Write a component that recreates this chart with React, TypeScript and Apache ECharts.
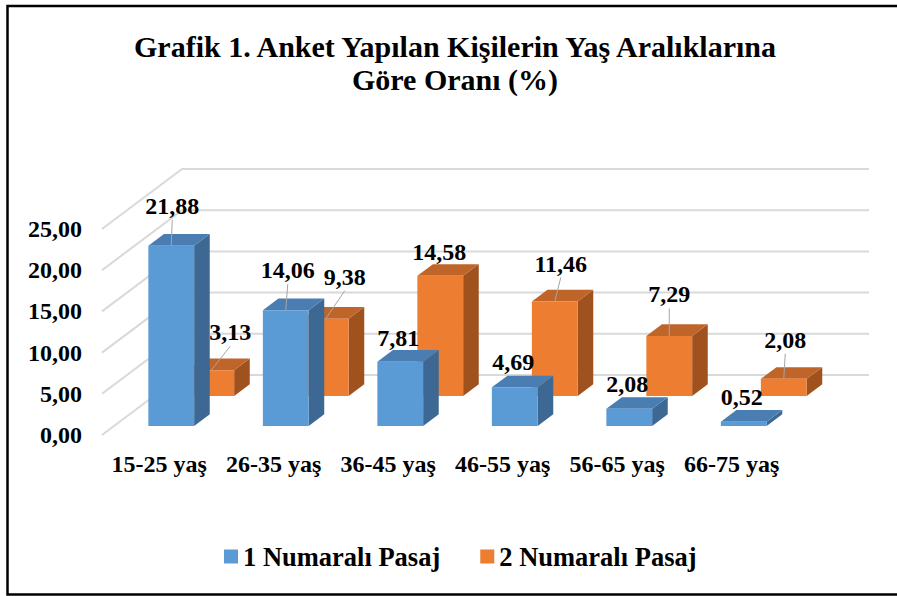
import React, { useEffect, useRef } from "react";
import * as echarts from "echarts";

// ---- data ----
const categories = ["15-25 yaş", "26-35 yaş", "36-45 yaş", "46-55 yaş", "56-65 yaş", "66-75 yaş"];
const seriesNames = ["1 Numaralı Pasaj", "2 Numaralı Pasaj"];
const pasaj1 = [21.88, 14.06, 7.81, 4.69, 2.08, 0.52];
const pasaj2 = [3.13, 9.38, 14.58, 11.46, 7.29, 2.08];
const yTicks = [0, 5, 10, 15, 20, 25];
const titleLines = ["Grafik 1. Anket Yapılan Kişilerin Yaş Aralıklarına", "Göre Oranı (%)"];

// ---- layout / style ----
const FONT = "Liberation Serif, Times New Roman, serif";
const DEPTH_X = 80;
const DEPTH_Y = 60;
const BAR_RATIO = 0.4;
const BAR_DEPTH = 0.195;
// label offset from front-top-centre of each bar: [dx, dy, leaderLine]
const label1Pos = [[1, -40, 1], [2, -40, 1], [-2, -24, 0], [-1.5, -25, 0], [-2, -25, 0], [-2, -25, 0]];
const label2Pos = [[19, -38, 1], [19, -42, 1], [-1, -23.5, 0], [6, -38, 1], [0, -41.5, 1], [1.5, -39, 1]];
const blueColors = { front: "#5B9BD5", top: "#4A7DB1", side: "#3D6893" };
const orangeColors = { front: "#ED7D31", top: "#C0652A", side: "#9F521E" };

const fmt = (v: number) => v.toFixed(2).replace(".", ",");

function makeBarRender(depth: number, colors: any, labelPos: number[][]) {
  return (params: any, api: any) => {
    const ci = api.value(0);
    const v = api.value(1);
    const base = api.coord([ci, 0]);
    const top = api.coord([ci, v]);
    const bw = api.size([1, 0])[0] * BAR_RATIO;
    const ox = DEPTH_X * depth;
    const oy = -DEPTH_Y * depth;
    const x0 = base[0] - bw / 2 + ox;
    const x1 = x0 + bw;
    const yb = base[1] + oy;
    const yt = top[1] + oy;
    const dx = DEPTH_X * BAR_DEPTH;
    const dy = DEPTH_Y * BAR_DEPTH;
    const lp = labelPos[params.dataIndex];
    const rx = x0 + bw / 2;
    const ry = yt;
    const tx = rx + lp[0];
    const ty = ry + lp[1];
    const children: any[] = [
      {
        type: "polygon",
        shape: { points: [[x1, yt], [x1 + dx, yt - dy], [x1 + dx, yb - dy], [x1, yb]] },
        style: { fill: colors.side },
      },
      {
        type: "polygon",
        shape: { points: [[x0, yt], [x1, yt], [x1 + dx, yt - dy], [x0 + dx, yt - dy]] },
        style: { fill: colors.top },
      },
      {
        type: "rect",
        shape: { x: x0, y: yt, width: bw, height: yb - yt },
        style: { fill: colors.front },
      },
    ];
    if (lp[2]) {
      children.push({
        type: "line",
        shape: { x1: tx, y1: ty + 14, x2: rx, y2: ry },
        style: { stroke: "#A6A6A6", lineWidth: 1 },
      });
    }
    children.push({
      type: "text",
      x: tx,
      y: ty,
      style: {
        text: fmt(v),
        fill: "#000",
        fontSize: 24,
        fontWeight: "bold",
        fontFamily: FONT,
        align: "center",
        verticalAlign: "middle",
      },
    });
    return { type: "group", children };
  };
}

function wallRender(params: any, api: any) {
  const cs = params.coordSys;
  const p = api.coord([0, api.value(1)]);
  const y = p[1];
  const xl = cs.x;
  const xr = cs.x + cs.width;
  const st = { stroke: "#D9D9D9", lineWidth: 2 };
  return {
    type: "group",
    children: [
      { type: "line", shape: { x1: xl, y1: y, x2: xl + DEPTH_X, y2: y - DEPTH_Y }, style: st },
      { type: "line", shape: { x1: xl + DEPTH_X, y1: y - DEPTH_Y, x2: xr + DEPTH_X, y2: y - DEPTH_Y }, style: st },
    ],
  };
}

export default function App() {
  const ref = useRef<HTMLDivElement>(null);
  useEffect(() => {
    if (!ref.current) return;
    const chart = echarts.init(ref.current, undefined, { renderer: "svg" });
    chart.setOption({
      animation: false,
      backgroundColor: "#fff",
      textStyle: { fontFamily: FONT },
      graphic: [
        {
          type: "rect",
          shape: { x: 7.5, y: 6, width: 900, height: 588.5 },
          style: { fill: "none", stroke: "#000", lineWidth: 2.5 },
          silent: true,
        },
        {
          type: "text",
          x: 455,
          y: 29.5,
          style: {
            text: titleLines.join("\n"),
            fill: "#000",
            fontSize: 30,
            fontWeight: "bold",
            fontFamily: FONT,
            lineHeight: 33,
            align: "center",
            verticalAlign: "top",
          },
        },
      ],
      legend: {
        data: seriesNames,
        left: 224,
        top: 543,
        padding: 0,
        icon: "rect",
        itemWidth: 14,
        itemHeight: 14,
        itemGap: 40,
        textStyle: { fontSize: 26.5, fontWeight: "bold", fontFamily: FONT, color: "#000" },
      },
      grid: { left: 102, top: 229, width: 687, height: 206 },
      xAxis: {
        type: "category",
        data: categories,
        axisLine: { show: false },
        axisTick: { show: false },
        axisLabel: { interval: 0, margin: 17, fontSize: 24, fontWeight: "bold", fontFamily: FONT, color: "#000" },
        splitLine: { show: false },
      },
      yAxis: {
        type: "value",
        min: 0,
        max: 25,
        interval: 5,
        axisLine: { show: false },
        axisTick: { show: false },
        splitLine: { show: false },
        axisLabel: {
          margin: 20,
          fontSize: 24,
          fontWeight: "bold",
          fontFamily: FONT,
          color: "#000",
          formatter: (v: number) => fmt(v),
        },
      },
      series: [
        {
          type: "custom",
          name: "wall",
          silent: true,
          z: 1,
          renderItem: wallRender,
          data: yTicks.map((v) => [0, v]),
          encode: { x: 0, y: 1 },
        },
        {
          type: "custom",
          name: seriesNames[1],
          z: 2,
          itemStyle: { color: orangeColors.front },
          renderItem: makeBarRender(0.65, orangeColors, label2Pos),
          data: pasaj2.map((v, i) => [i, v]),
          encode: { x: 0, y: 1 },
        },
        {
          type: "custom",
          name: seriesNames[0],
          z: 3,
          itemStyle: { color: blueColors.front },
          renderItem: makeBarRender(0.15, blueColors, label1Pos),
          data: pasaj1.map((v, i) => [i, v]),
          encode: { x: 0, y: 1 },
        },
      ],
    });
    return () => chart.dispose();
  }, []);
  return (
    <div
      ref={ref}
      style={{ position: "fixed", left: 0, top: 0, width: 897, height: 596 }}
    />
  );
}
